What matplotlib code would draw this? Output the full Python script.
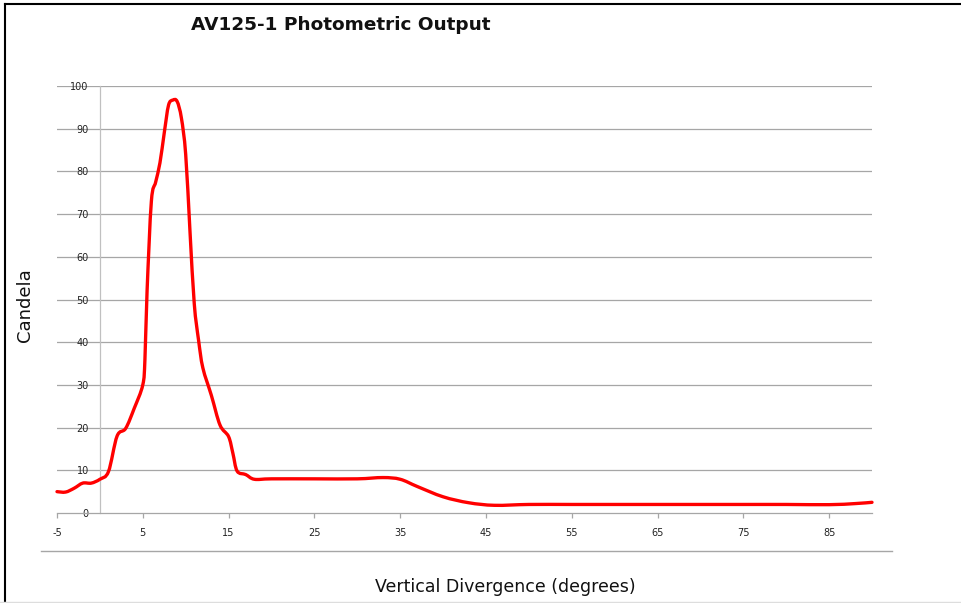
import matplotlib
matplotlib.use("Agg")
import matplotlib.pyplot as plt
from matplotlib.lines import Line2D
from matplotlib.path import Path
from matplotlib.patches import PathPatch

# Data
angle = [-5, -4, -3, -2, -1, 0, 1, 2, 3, 4, 5, 5.25, 5.5, 6, 6.5, 7, 7.5, 8, 8.5, 9, 9.5,
         10, 10.5, 11, 11.5, 12, 13, 14, 15, 15.5, 16, 17, 18, 20, 25, 30, 33, 35, 37, 40,
         43, 46, 50, 55, 60, 65, 70, 75, 80, 85, 88, 90]
candela = [5.0, 4.9, 5.8, 7.0, 7.0, 7.9, 9.7, 18.0, 19.8, 24.5, 30.0, 36.0, 52.0, 73.0, 77.5,
           82.0, 89.0, 95.5, 96.7, 96.4, 92.5, 84.0, 66.0, 49.0, 40.5, 34.0, 27.5, 20.6,
           17.9, 14.0, 9.8, 9.0, 7.9, 8.0, 8.0, 8.0, 8.3, 7.9, 6.2, 3.8, 2.4, 1.8, 2.0, 2.0,
           2.0, 2.0, 2.0, 2.0, 2.0, 1.95, 2.2, 2.5]
x_ticks = [-5, 5, 15, 25, 35, 45, 55, 65, 75, 85]
y_ticks = [0, 10, 20, 30, 40, 50, 60, 70, 80, 90, 100]

W, H = 962, 603
fig = plt.figure(figsize=(W / 100, H / 100), dpi=100)
fig.patch.set_facecolor("white")

L, R, T, B = 57, 872, 86, 513
ax = fig.add_axes([L / W, 1 - B / H, (R - L) / W, (B - T) / H])
ax.set_xlim(-5, 90)
ax.set_ylim(0, 100)

grid_c = "#a6a6a6"
for yv in y_ticks[1:]:
    ax.axhline(yv, color=grid_c, lw=0.9, zorder=1)

for s in ["top", "right", "bottom", "left"]:
    ax.spines[s].set_visible(False)
ax.spines["left"].set_visible(True)
ax.spines["left"].set_position(("data", 0))
ax.spines["left"].set_color("#c0c0c0")
ax.spines["left"].set_linewidth(0.9)
ax.spines["bottom"].set_visible(True)
ax.spines["bottom"].set_color(grid_c)
ax.spines["bottom"].set_linewidth(0.9)

ax.set_yticks(y_ticks)
ax.set_yticklabels([str(v) for v in y_ticks])
ax.set_xticks(x_ticks)
ax.set_xticklabels([str(v) for v in x_ticks])
ax.tick_params(axis="y", length=0, pad=8, labelsize=7, labelcolor="#222222")
ax.tick_params(axis="x", length=3.5, width=0.9, color=grid_c, pad=7,
               labelsize=7, labelcolor="#222222")

# Smoothed line (Catmull-Rom style cubic Bezier through the data points)
pts = list(zip(angle, candela))
verts = [pts[0]]
codes = [Path.MOVETO]
n = len(pts)
for i in range(n - 1):
    p0 = pts[i - 1] if i > 0 else pts[i]
    p1 = pts[i]
    p2 = pts[i + 1]
    p3 = pts[i + 2] if i + 2 < n else pts[i + 1]
    c1 = (p1[0] + (p2[0] - p0[0]) / 6, p1[1] + (p2[1] - p0[1]) / 6)
    c2 = (p2[0] - (p3[0] - p1[0]) / 6, p2[1] - (p3[1] - p1[1]) / 6)
    verts += [c1, c2, p2]
    codes += [Path.CURVE4, Path.CURVE4, Path.CURVE4]
curve = PathPatch(Path(verts, codes), facecolor="none", edgecolor="#ff0000", lw=2.4,
                  joinstyle="round", capstyle="round", zorder=3, transform=ax.transData)
curve.set_clip_on(False)
ax.add_patch(curve)

fig.text(341 / W, 1 - 25 / H, "AV125-1 Photometric Output", ha="center", va="center",
         fontsize=13.3, fontweight="bold", color="#111111")
fig.text(25 / W, 1 - 305 / H, "Candela", ha="center", va="center", rotation=90,
         fontsize=13, color="#111111")
fig.text(505 / W, 1 - 587 / H, "Vertical Divergence (degrees)", ha="center", va="center",
         fontsize=12.5, color="#111111")

# separator line below axis labels
fig.add_artist(Line2D([41 / W, 892 / W], [1 - 551 / H, 1 - 551 / H],
                      transform=fig.transFigure, color=grid_c, lw=1.0))
# outer frame: top and left black, bottom light gray
fig.add_artist(Line2D([5 / W, 1], [1 - 4 / H, 1 - 4 / H], transform=fig.transFigure,
                      color="black", lw=1.5))
fig.add_artist(Line2D([5 / W, 5 / W], [0, 1 - 4 / H], transform=fig.transFigure,
                      color="black", lw=1.5))
fig.add_artist(Line2D([0, 1], [1 - 602 / H, 1 - 602 / H], transform=fig.transFigure,
                      color="#dddddd", lw=1.0))

fig.savefig("out.png", dpi=100)
